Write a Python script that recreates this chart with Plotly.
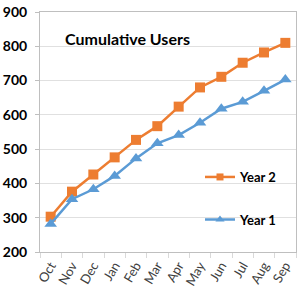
import plotly.graph_objects as go

months = ["Oct", "Nov", "Dec", "Jan", "Feb", "Mar", "Apr", "May", "Jun", "Jul", "Aug", "Sep"]
year2 = [303, 376, 426, 476, 527, 567, 624, 680, 711, 752, 782, 810]
year1 = [282, 354, 383, 422, 473, 517, 541, 577, 618, 638, 670, 703]
y_ticks = [200, 300, 400, 500, 600, 700, 800, 900]

FONT = "Lato"
ORANGE, BLUE = "#ED7D31", "#5B9BD5"
fig = go.Figure()
fig.add_trace(go.Scatter(
    x=months, y=year2, name="Year 2", mode="lines+markers", showlegend=False,
    line=dict(color=ORANGE, width=2.5),
    marker=dict(symbol="square", size=10, color=ORANGE)))
fig.add_trace(go.Scatter(
    x=months, y=year1, name="Year 1", mode="lines+markers", showlegend=False,
    line=dict(color=BLUE, width=2.5),
    marker=dict(symbol="triangle-up", size=11, color=BLUE)))
# legend entries with smaller symbols
fig.add_trace(go.Scatter(
    x=[None], y=[None], name="Year 2", mode="lines+markers",
    line=dict(color=ORANGE, width=2.5),
    marker=dict(symbol="square", size=7, color=ORANGE), legend="legend"))
fig.add_trace(go.Scatter(
    x=[None], y=[None], name="Year 1", mode="lines+markers",
    line=dict(color=BLUE, width=2.5),
    marker=dict(symbol="triangle-up", size=8, color=BLUE), legend="legend2"))

legend_style = dict(font=dict(family=FONT, size=13, color="black", weight="bold"),
                    bgcolor="rgba(0,0,0,0)", xanchor="left", yanchor="middle",
                    itemwidth=30)
fig.update_layout(
    width=300, height=300,
    margin=dict(l=37, r=3, t=12, b=48),
    paper_bgcolor="white", plot_bgcolor="white",
    showlegend=True,
    legend=dict(x=0.625, y=0.3125, **legend_style),
    legend2=dict(x=0.625, y=0.135, **legend_style),
    xaxis=dict(type="category", range=[-0.5, 11.5], tickangle=-60,
               tickson="boundaries", ticks="outside", ticklen=5, tickcolor="#D9D9D9",
               showgrid=False, showline=True, linecolor="#BFBFBF", mirror=True,
               tickfont=dict(family=FONT, size=13, color="#404040")),
    yaxis=dict(range=[200, 900], tickvals=y_ticks, ticks="outside", ticklen=4,
               tickcolor="#BFBFBF", showgrid=True, gridcolor="#E0E0E0",
               showline=True, linecolor="#BFBFBF", mirror=True, zeroline=False,
               ticklabelstandoff=5,
               tickfont=dict(family=FONT, size=14, color="black", weight="bold")),
    annotations=[dict(text="<b>Cumulative Users</b>", xref="paper", yref="paper",
                      x=0.09, y=0.89, xanchor="left", yanchor="middle", showarrow=False,
                      font=dict(family=FONT, size=16, color="black"))],
)
fig.write_html("out.html")
